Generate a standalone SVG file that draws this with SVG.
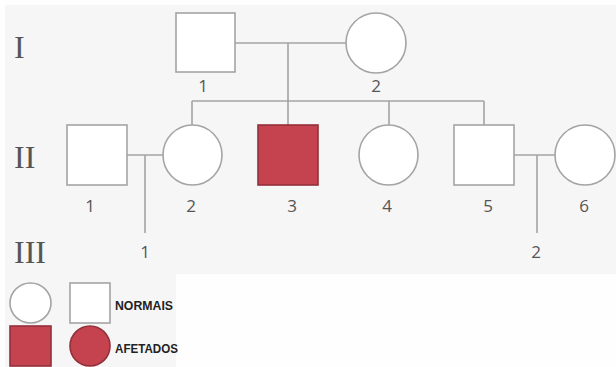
<svg xmlns="http://www.w3.org/2000/svg" width="616" height="367" viewBox="0 0 616 367">
<style>
.bg{fill:#f6f6f6}
.n{fill:#ffffff;stroke:#a4a4a4;stroke-width:1.6}
.a{fill:#c5434f;stroke:#93303a;stroke-width:1.6}
.ln{stroke:#a4a4a4;stroke-width:1.6;fill:none}
.num{font-family:"Open Sans","Noto Sans",sans-serif;font-size:17px;fill:#555;text-anchor:middle}
.gen{font-family:"Liberation Serif","DejaVu Serif",serif;font-size:32px;fill:#555}
.leg{font-family:"Liberation Sans",Arial,sans-serif;font-size:13px;font-weight:bold;fill:#222}
</style>
<rect x="0" y="0" width="616" height="367" fill="#fefefe"/>
<rect class="bg" x="5" y="5" width="611" height="269"/>
<rect class="bg" x="5" y="274" width="171" height="93"/>
<text class="gen" x="14" y="58">I</text>
<text class="gen" x="14" y="168">II</text>
<text class="gen" x="14" y="263">III</text>
<g id="connectors">
<line class="ln" x1="235" y1="43" x2="346" y2="43"/>
<line class="ln" x1="288" y1="43" x2="288" y2="101"/>
<line class="ln" x1="192" y1="101" x2="484" y2="101"/>
<line class="ln" x1="192" y1="101" x2="192" y2="125"/>
<line class="ln" x1="288" y1="101" x2="288" y2="125"/>
<line class="ln" x1="389" y1="101" x2="389" y2="125"/>
<line class="ln" x1="484" y1="101" x2="484" y2="125"/>
<line class="ln" x1="127" y1="155" x2="163" y2="155"/>
<line class="ln" x1="145" y1="155" x2="145" y2="233"/>
<line class="ln" x1="514" y1="155" x2="555" y2="155"/>
<line class="ln" x1="537" y1="155" x2="537" y2="233"/>
</g>
<g id="I-1"><rect class="n" x="176" y="13" width="59" height="59"/><text class="num" x="203" y="92">1</text></g>
<g id="I-2"><ellipse class="n" cx="376" cy="43" rx="30" ry="30"/><text class="num" x="376" y="92">2</text></g>
<g id="II-1"><rect class="n" x="67" y="125" width="60" height="60"/><text class="num" x="90" y="212">1</text></g>
<g id="II-2"><ellipse class="n" cx="192.5" cy="155" rx="29.5" ry="30"/><text class="num" x="191" y="212">2</text></g>
<g id="II-3"><rect class="a" x="258" y="125" width="60" height="60"/><text class="num" x="292" y="212">3</text></g>
<g id="II-4"><ellipse class="n" cx="388.5" cy="155" rx="29.5" ry="30"/><text class="num" x="387" y="212">4</text></g>
<g id="II-5"><rect class="n" x="454" y="125" width="60" height="60"/><text class="num" x="488" y="212">5</text></g>
<g id="II-6"><ellipse class="n" cx="585" cy="155" rx="30" ry="30"/><text class="num" x="584" y="212">6</text></g>
<g id="III-1"><text class="num" x="145" y="258">1</text></g>
<g id="III-2"><text class="num" x="536" y="258">2</text></g>
<g id="legend">
<ellipse class="n" cx="30.5" cy="303" rx="20.5" ry="20"/>
<rect class="n" x="70" y="283" width="40" height="40"/>
<text class="leg" x="115" y="310" textLength="58" lengthAdjust="spacingAndGlyphs">NORMAIS</text>
<rect class="a" x="10" y="326" width="41" height="40"/>
<ellipse class="a" cx="90" cy="346" rx="20" ry="20"/>
<text class="leg" x="115" y="353" textLength="63" lengthAdjust="spacingAndGlyphs">AFETADOS</text>
</g>
</svg>
